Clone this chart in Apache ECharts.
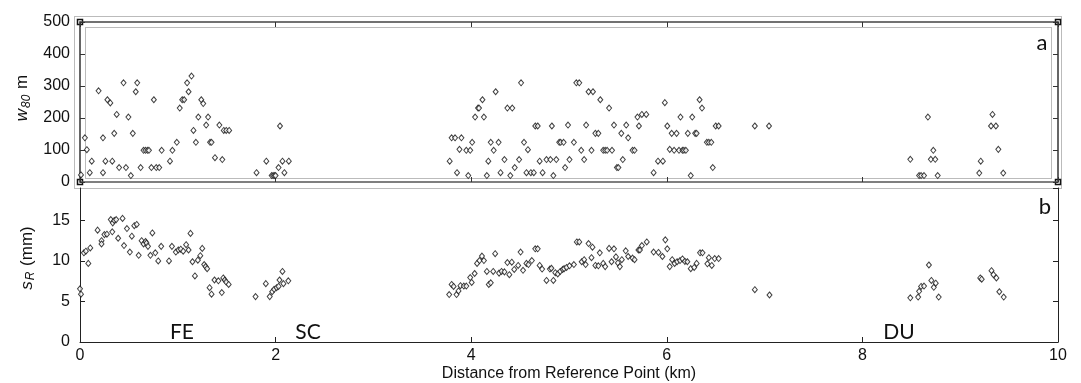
<!DOCTYPE html>
<html>
<head>
<meta charset="utf-8">
<script src="https://cdn.jsdelivr.net/npm/echarts@6/dist/echarts.min.js"></script>
<style>html,body{margin:0;padding:0;background:#fff}#c{width:1081px;height:383px}</style>
</head>
<body>
<div id="c"></div>
<script>
// Panel a: w80 (m) versus distance (km)
var wDist = [0.01,0.05,0.07,0.10,0.12,0.19,0.235,0.235,0.26,0.28,0.31,0.33,0.35,0.375,0.40,0.445,0.47,0.495,0.52,0.54,0.57,0.585,0.62,0.65,0.67,0.69,0.705,0.73,0.755,0.78,0.81,0.835,0.92,0.945,0.99,1.02,1.045,1.065,1.095,1.11,1.14,1.16,1.185,1.21,1.24,1.26,1.29,1.31,1.33,1.345,1.38,1.425,1.455,1.47,1.495,1.525,1.805,1.905,1.96,1.975,1.99,2.0,2.03,2.045,2.07,2.09,2.135,3.78,3.80,3.835,3.855,3.88,3.90,3.95,3.97,3.99,4.01,4.04,4.07,4.08,4.115,4.13,4.16,4.175,4.20,4.23,4.25,4.28,4.30,4.34,4.37,4.40,4.42,4.445,4.49,4.51,4.54,4.565,4.58,4.61,4.64,4.655,4.68,4.70,4.73,4.77,4.81,4.825,4.84,4.87,4.90,4.915,4.945,4.96,4.99,5.005,5.05,5.075,5.105,5.125,5.155,5.175,5.20,5.23,5.245,5.27,5.30,5.32,5.35,5.37,5.39,5.41,5.44,5.46,5.49,5.505,5.535,5.55,5.585,5.605,5.65,5.67,5.70,5.715,5.745,5.79,5.865,5.91,5.96,5.98,6.005,6.03,6.05,6.075,6.10,6.125,6.14,6.16,6.175,6.195,6.215,6.245,6.26,6.29,6.305,6.335,6.36,6.41,6.43,6.455,6.47,6.50,6.53,6.90,7.045,8.49,8.58,8.60,8.63,8.67,8.70,8.725,8.745,8.77,9.195,9.21,9.315,9.33,9.365,9.39,9.44];
var wVal = [22,138,101,29,65,285,138,29,65,257,247,65,152,211,45,310,45,203,20,152,282,310,45,99,99,99,99,45,257,45,45,99,65,99,124,231,257,257,310,282,331,161,124,203,257,245,178,203,124,124,76,178,70,161,161,161,29,65,20,20,20,20,45,175,65,29,65,65,138,138,29,102,138,99,20,99,124,203,231,231,257,203,20,65,124,99,282,124,29,70,231,20,231,45,70,310,124,29,101,29,29,175,175,65,29,70,70,175,20,70,124,124,124,45,178,70,124,310,310,99,70,178,282,99,282,152,152,257,99,99,99,231,99,178,45,45,152,70,178,138,99,99,203,175,211,211,29,65,65,248,175,102,152,99,152,99,203,99,99,99,152,20,203,152,152,257,231,124,124,124,45,175,175,175,175,71,20,20,20,203,71,99,71,20,28,65,175,211,175,102,28];

// Panel b: sR (mm) versus distance (km)
var sDist = [0.0,0.01,0.04,0.06,0.085,0.105,0.18,0.22,0.22,0.25,0.275,0.315,0.33,0.335,0.35,0.37,0.39,0.435,0.45,0.48,0.51,0.53,0.555,0.58,0.60,0.63,0.65,0.67,0.68,0.695,0.72,0.74,0.77,0.80,0.83,0.91,0.94,0.98,1.005,1.03,1.055,1.085,1.11,1.13,1.15,1.175,1.205,1.23,1.25,1.27,1.285,1.30,1.325,1.345,1.375,1.415,1.45,1.465,1.48,1.495,1.52,1.795,1.90,1.94,1.965,1.985,2.01,2.03,2.04,2.07,2.08,2.13,3.775,3.80,3.82,3.85,3.87,3.89,3.925,3.95,3.99,4.005,4.035,4.06,4.085,4.11,4.13,4.16,4.18,4.20,4.225,4.245,4.285,4.31,4.34,4.37,4.39,4.415,4.44,4.48,4.505,4.53,4.565,4.585,4.62,4.655,4.68,4.70,4.725,4.77,4.805,4.82,4.84,4.86,4.885,4.91,4.935,4.95,4.975,5.005,5.05,5.08,5.105,5.13,5.155,5.17,5.20,5.23,5.24,5.27,5.30,5.315,5.35,5.37,5.41,5.435,5.46,5.48,5.50,5.52,5.54,5.58,5.605,5.65,5.67,5.71,5.725,5.745,5.795,5.865,5.915,5.955,5.985,6.005,6.03,6.055,6.08,6.105,6.135,6.16,6.185,6.21,6.245,6.28,6.305,6.34,6.365,6.415,6.43,6.46,6.49,6.53,6.90,7.05,8.49,8.57,8.58,8.60,8.63,8.68,8.705,8.73,8.75,8.78,9.205,9.22,9.32,9.34,9.37,9.40,9.445];
var sVal = [6.56,5.9,11.0,11.2,9.7,11.6,13.8,12.5,12.1,13.25,13.3,15.1,13.6,14.7,15.0,15.1,12.8,15.25,11.9,14.0,11.1,13.05,14.35,14.5,10.7,12.5,12.1,12.4,12.2,11.8,10.7,13.45,11.0,10.0,11.8,10.0,11.8,11.1,11.35,11.45,11.2,12.0,11.35,13.4,9.9,8.15,10.1,10.65,11.55,9.55,9.3,9.05,6.7,5.9,7.65,7.55,6.1,7.9,7.65,7.4,7.1,5.6,7.2,5.6,6.2,6.5,6.7,6.85,7.65,8.7,7.2,7.55,5.85,7.1,6.85,5.85,6.3,6.95,6.9,6.9,7.95,7.35,8.45,9.7,10.05,10.6,10.05,8.7,7.1,7.3,8.7,10.9,8.5,8.7,8.65,9.8,8.3,9.85,8.95,9.45,11.1,8.85,9.7,9.55,10.05,11.5,11.5,9.45,9.0,7.6,9.0,9.1,7.6,8.55,8.4,8.7,8.95,9.05,9.2,9.4,9.55,12.35,12.35,9.9,10.15,9.55,12.15,10.4,11.7,9.45,9.4,11.0,9.7,9.3,11.55,9.9,11.5,10.5,9.75,9.3,10.15,11.25,10.55,10.35,10.15,11.35,11.35,11.9,12.35,11.1,11.05,10.55,12.6,11.5,9.3,10.15,9.7,9.9,10.05,10.25,9.95,9.9,9.05,9.2,9.7,11.0,11.0,9.65,10.4,9.45,10.3,10.3,6.45,5.8,5.45,5.55,6.25,6.85,6.9,9.5,7.6,6.75,7.25,5.55,7.9,7.75,8.8,8.3,7.9,6.2,5.55];

var xTicks = [0,2,4,6,8,10];
var wTicks = [0,100,200,300,400,500];
var sTicks = [0,5,10,15];

function pairs(xs, ys){ return xs.map(function(x,i){ return [x, ys[i]]; }); }

var axisCol = '#222';
var font = 'Liberation Sans, Arial, sans-serif';
var chart = echarts.init(document.getElementById('c'), null, {renderer:'canvas'});

var L = 80, R = 1058, aTop = 22, aBot = 182, bTop = 188, bBot = 342;

var nameRich = {
  i:{fontStyle:'italic', fontSize:17, fontFamily:font, color:'#111'},
  sub:{fontStyle:'italic', fontSize:12, fontFamily:font, color:'#111', padding:[8,1,0,1]},
  n:{fontSize:17, fontFamily:font, color:'#111'}
};

var option = {
  animation: false,
  backgroundColor: '#fff',
  grid: [
    {left: L, right: 1081 - R, top: aTop, height: aBot - aTop},
    {left: L, right: 1081 - R, top: bTop, height: bBot - bTop}
  ],
  xAxis: [
    {gridIndex:0, type:'value', min:xTicks[0], max:xTicks[xTicks.length-1], interval:2, position:'bottom',
     axisLine:{show:true, onZero:false, lineStyle:{color:'#555', width:1.5}},
     axisTick:{show:true, inside:true, length:5, lineStyle:{color:'#333'}},
     axisLabel:{show:false}, splitLine:{show:false}},
    {gridIndex:0, type:'value', min:xTicks[0], max:xTicks[xTicks.length-1], interval:2, position:'top',
     axisLine:{show:true, onZero:false, lineStyle:{color:'#444', width:1.5}},
     axisTick:{show:true, inside:true, length:5, lineStyle:{color:'#333'}},
     axisLabel:{show:false}, splitLine:{show:false}},
    {gridIndex:1, type:'value', min:xTicks[0], max:xTicks[xTicks.length-1], interval:2, position:'bottom',
     axisLine:{show:true, onZero:false, lineStyle:{color:axisCol, width:1}},
     axisTick:{show:true, inside:true, length:5, lineStyle:{color:axisCol}},
     axisLabel:{show:true, color:'#111', fontSize:16, fontFamily:font, margin:6},
     splitLine:{show:false},
     name:'Distance from Reference Point (km)', nameLocation:'middle', nameGap:24,
     nameTextStyle:{color:'#111', fontSize:16, fontFamily:font}}
  ],
  yAxis: [
    {gridIndex:0, type:'value', min:wTicks[0], max:wTicks[wTicks.length-1], interval:100,
     axisLine:{show:true, onZero:false, lineStyle:{color:'#333', width:1.5}},
     axisTick:{show:true, inside:true, length:5, lineStyle:{color:'#333'}},
     axisLabel:{show:true, color:'#111', fontSize:16, fontFamily:font, margin:10},
     splitLine:{show:false},
     name:'{i|w}{sub|80}{n| m}', nameLocation:'middle', nameGap:43, nameRotate:90,
     nameTextStyle:{color:'#111', fontSize:17, fontFamily:font, rich:nameRich, padding:[0,0,0,8]}},
    {gridIndex:0, type:'value', min:wTicks[0], max:wTicks[wTicks.length-1], interval:100, position:'right',
     axisLine:{show:true, onZero:false, lineStyle:{color:'#333', width:1.5}},
     axisTick:{show:true, inside:true, length:5, lineStyle:{color:'#333'}},
     axisLabel:{show:false}, splitLine:{show:false}},
    {gridIndex:1, type:'value', min:sTicks[0], max:19, interval:5,
     axisLine:{show:true, onZero:false, lineStyle:{color:axisCol, width:1}},
     axisTick:{show:true, inside:true, length:5, lineStyle:{color:axisCol}},
     axisLabel:{show:true, color:'#111', fontSize:16, fontFamily:font, margin:10, showMaxLabel:false},
     splitLine:{show:false},
     name:'{i|s}{sub|R}{n| (mm)}', nameLocation:'middle', nameGap:43, nameRotate:90,
     nameTextStyle:{color:'#111', fontSize:17, fontFamily:font, rich:nameRich, padding:[0,0,0,14]}},
    {gridIndex:1, type:'value', min:sTicks[0], max:19, interval:5, position:'right',
     axisLine:{show:true, onZero:false, lineStyle:{color:axisCol, width:1}},
     axisTick:{show:true, inside:true, length:5, lineStyle:{color:axisCol}},
     axisLabel:{show:false}, splitLine:{show:false}}
  ],
  series: [
    {type:'scatter', xAxisIndex:0, yAxisIndex:0, data:pairs(wDist, wVal), symbol:'diamond', symbolSize:[5,6],
     itemStyle:{color:'#fff', borderColor:'#111', borderWidth:1}, silent:true},
    {type:'scatter', xAxisIndex:2, yAxisIndex:2, data:pairs(sDist, sVal), symbol:'diamond', symbolSize:[5,6],
     itemStyle:{color:'#fff', borderColor:'#111', borderWidth:1}, silent:true}
  ],
  graphic: [
    {type:'rect', shape:{x:74.5, y:16.5, width:987, height:172}, style:{fill:'none', stroke:'#777', lineWidth:1, lineDash:[1,1]}, silent:true},
    {type:'rect', shape:{x:85.5, y:27.5, width:966, height:151}, style:{fill:'none', stroke:'#777', lineWidth:1, lineDash:[1,1]}, silent:true},
    {type:'rect', shape:{x:L-2.5, y:aTop-2.5, width:5, height:5}, style:{fill:'#fff', stroke:'#111', lineWidth:1.5}, silent:true},
    {type:'rect', shape:{x:L-2.5, y:aBot-2.5, width:5, height:5}, style:{fill:'#fff', stroke:'#111', lineWidth:1.5}, silent:true},
    {type:'rect', shape:{x:R-2.5, y:aTop-2.5, width:5, height:5}, style:{fill:'#fff', stroke:'#111', lineWidth:1.5}, silent:true},
    {type:'rect', shape:{x:R-2.5, y:aBot-2.5, width:5, height:5}, style:{fill:'#fff', stroke:'#111', lineWidth:1.5}, silent:true},
    {type:'text', x:1042, y:43, style:{text:'a', font:'22px Lato, sans-serif', fill:'#111', textAlign:'center', textVerticalAlign:'middle'}},
    {type:'text', x:1045, y:207, style:{text:'b', font:'22px Lato, sans-serif', fill:'#111', textAlign:'center', textVerticalAlign:'middle'}},
    {type:'text', x:182, y:332, style:{text:'FE', font:'21px Lato, sans-serif', fill:'#111', textAlign:'center', textVerticalAlign:'middle'}},
    {type:'text', x:308, y:332, style:{text:'SC', font:'21px Lato, sans-serif', fill:'#111', textAlign:'center', textVerticalAlign:'middle'}},
    {type:'text', x:899, y:332, style:{text:'DU', font:'21px Lato, sans-serif', fill:'#111', textAlign:'center', textVerticalAlign:'middle'}}
  ]
};
chart.setOption(option);
</script>
</body>
</html>
